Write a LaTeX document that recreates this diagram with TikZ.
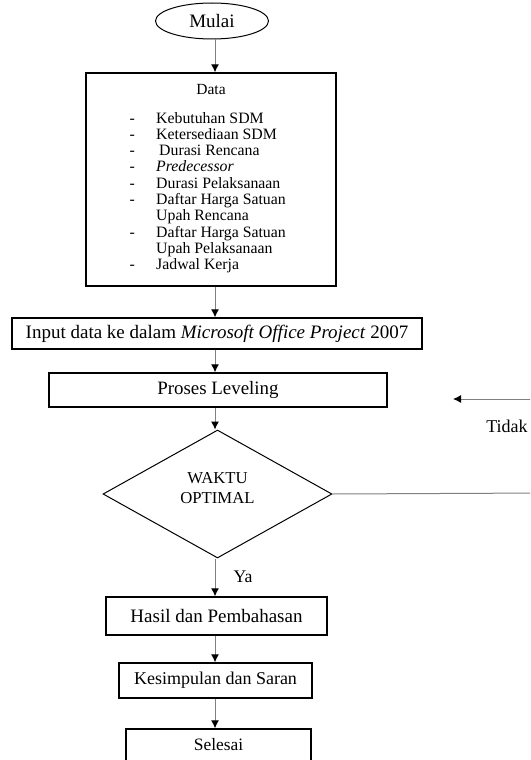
\documentclass[tikz,border=0pt]{standalone}
\usepackage{fontspec}
\setmainfont{Liberation Serif}
\usetikzlibrary{arrows.meta,positioning,shapes.geometric}
\newcommand{\sz}[2]{\fontsize{#1}{#2}\selectfont}
\tikzset{box/.style={draw=black,line width=1.4pt,inner sep=0pt,align=center,font=\sz{18}{21}},
 term/.style={ellipse,draw=black,line width=1pt,inner sep=0pt,font=\sz{19}{22}},
 decide/.style={diamond,draw=black,line width=1pt,inner sep=0pt,align=center,font=\sz{16.7}{20}},
 item/.style={inner sep=0pt,anchor=base west,font=\sz{15.8}{16}},
 lbl/.style={inner sep=0pt,font=\sz{18}{21}},
 arr/.style={-{Latex[length=8pt,width=8pt,color=black]},draw=gray,line width=1pt},
 link/.style={draw=gray,line width=1pt}}
\begin{document}
\begin{tikzpicture}[x=1pt,y=-1pt]
\useasboundingbox (0,0) rectangle (530,760);
\clip (0,0) rectangle (530,760);
\coordinate (spine) at (215,0);
% terminal and data block
\node[term,minimum width=113,minimum height=36] (mulai) at (212,21) {Mulai};
\node[box,minimum width=250,minimum height=213] (data) at (211,179.5) {};
\node[inner sep=0pt,font=\sz{15.5}{16}] (datatitle) at (211,90) {Data};
\foreach \i/\d/\t in {0/-/Kebutuhan SDM,1/-/Ketersediaan SDM,2/-/\hspace{3pt}Durasi Rencana,3/-/\textit{Predecessor},4/-/Durasi Pelaksanaan,5/-/Daftar Harga Satuan,6//Upah Rencana,7/-/Daftar Harga Satuan,8//Upah Pelaksanaan,9/-/Jadwal Kerja}
 {\node[item] (dash\i) at (129.5,123+16.3*\i) {\d};
  \node[item] (item\i) at (156,123+16.3*\i) {\t};}
% process steps
\node[box,minimum width=410,minimum height=31,font=\sz{19}{21}] (input) at (217,333.5) {Input data ke dalam \textit{Microsoft Office Project} 2007};
\node[box,minimum width=338,minimum height=34,font=\sz{18.9}{21}] (proses) at (218,390) {Proses Leveling};
\node[decide,minimum width=229,minimum height=128] (cek) at (217.5,494) {WAKTU\\OPTIMAL\\[-8pt]};
\node[box,minimum width=221,minimum height=38,font=\sz{19}{21}] (hasil) at (216.5,616) {Hasil dan Pembahasan};
\node[box,minimum width=193,minimum height=35] (simpul) at (215.5,680.5) {Kesimpulan dan Saran};
\node[box,minimum width=185,minimum height=32,font=\sz{17.4}{20}] (selesai) at (218.5,745) {Selesai};
% connectors
\draw[arr] (mulai.south -| spine) -- (data.north -| spine);
\draw[arr] (data.south -| spine) -- (input.north -| spine);
\draw[arr] (input.south -| spine) -- (proses.north -| spine);
\draw[arr] (proses.south -| spine) -- (cek.north -| spine);
\draw[arr] (cek.south -| spine) -- (hasil.north -| spine);
\draw[arr] (hasil.south -| spine) -- (simpul.north -| spine);
\draw[arr] (simpul.south -| spine) -- (selesai.north -| spine);
\node[lbl,font=\sz{17.7}{20}] (ya) at (243,577) {Ya};
% loop back
\coordinate (loopin) at (453,399);
\coordinate (loopout) at (545,493);
\draw[link] (cek.east) -- (loopout);
\draw[arr] (loopout) |- (loopin);
\node[lbl] (tidak) at (507,426) {Tidak};
\end{tikzpicture}
\end{document}
